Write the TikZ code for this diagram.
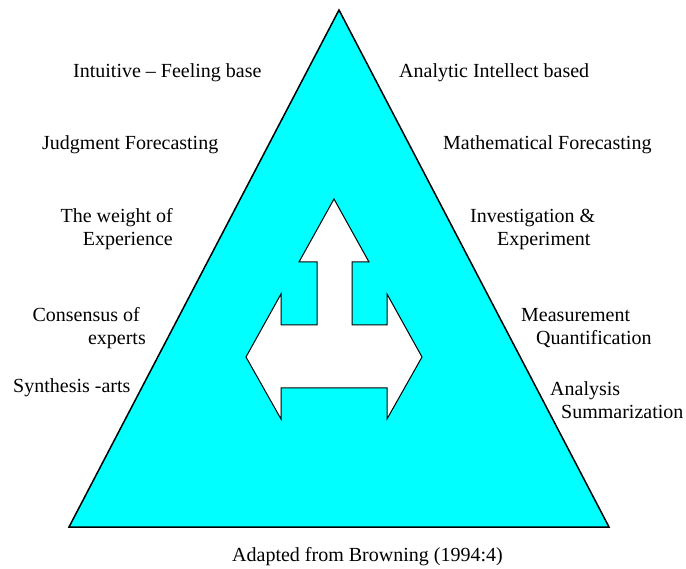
\documentclass[tikz,border=0pt]{standalone}
\usepackage{fontspec}
\setmainfont{Liberation Serif}
\definecolor{TriCyan}{HTML}{00FFFF}

\begin{document}
\begin{tikzpicture}[x=1pt, y=-1pt,
    lbl/.style={font=\fontsize{20}{23}\selectfont, inner sep=0pt}]
    \useasboundingbox (0,0) rectangle (686,569);

    % Triangle
    \filldraw[fill=TriCyan, draw=black, line width=1.5pt] (339,10) -- (609,527) -- (69,527) -- cycle;

    % Three-way arrow
    \filldraw[fill=white, draw=black, line width=1pt] (334,199) -- (369,262) -- (352,262) -- (352,325)
        -- (387,325) -- (387,294) -- (422,357) -- (387,419) -- (387,388) -- (281,388) -- (281,419)
        -- (246,357) -- (281,294) -- (281,325) -- (317,325) -- (317,262) -- (299,262) -- cycle;

    % Left side
    \node[lbl, anchor=west] (intuitive) at (73,73) {Intuitive -- Feeling base};
    \node[lbl, anchor=west] (judgment) at (42,145) {Judgment Forecasting};
    \node[lbl, anchor=east, align=right] (weight) at (173,229) {The weight of\\Experience};
    \node[lbl, anchor=east, align=right] (consensus) at (146,328) {Consensus of\hspace*{6pt}\\experts};
    \node[lbl, anchor=west] (synthesis) at (13,388) {Synthesis -arts};

    % Right side
    \node[lbl, anchor=west] (analytic) at (399,73) {Analytic Intellect based};
    \node[lbl, anchor=west] (mathematical) at (443,145) {Mathematical Forecasting};
    \node[lbl, anchor=west, align=left] (investigation) at (470,229) {Investigation \&\\\hspace*{27pt}Experiment};
    \node[lbl, anchor=west, align=left] (measurement) at (521,328) {Measurement\\\hspace*{15pt}Quantification};
    \node[lbl, anchor=west, align=left] (analysis) at (550,400) {Analysis\\\hspace*{11pt}Summarization};

    % Source
    \node[lbl, anchor=west] (source) at (232,557) {Adapted from Browning (1994:4)};
\end{tikzpicture}
\end{document}
